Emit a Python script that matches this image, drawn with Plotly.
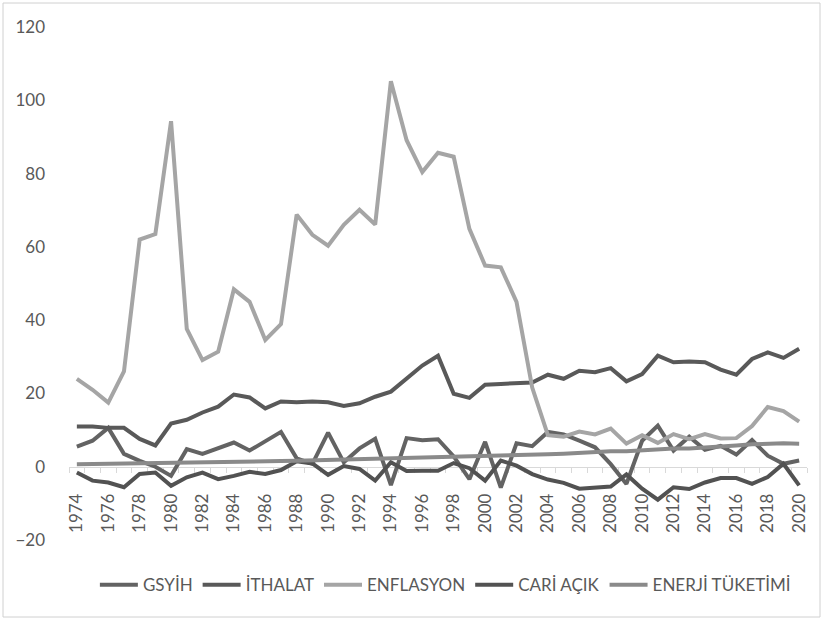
import plotly.graph_objects as go

years = list(range(1974, 2021))

gsyih = [5.5, 7.1, 10.6, 3.5, 1.6, 0.0, -2.5, 4.8, 3.5, 5.1, 6.6, 4.4, 7.1, 9.5, 2.3, 0.8,
         9.3, 1.2, 5.0, 7.6, -5.0, 7.8, 7.2, 7.5, 2.8, -3.4, 6.8, -5.7, 6.4, 5.6, 9.5, 8.8,
         7.1, 5.3, 0.7, -4.7, 7.1, 11.2, 4.4, 8.2, 4.6, 5.7, 3.3, 7.3, 3.0, 0.8, 1.7]

ithalat = [11.0, 11.0, 10.6, 10.6, 7.6, 5.8, 11.8, 12.8, 14.8, 16.4, 19.7, 18.9, 15.9, 17.8,
           17.6, 17.8, 17.6, 16.6, 17.3, 19.1, 20.5, 24.0, 27.6, 30.3, 19.9, 18.8, 22.4, 22.6,
           22.8, 23.0, 25.1, 24.0, 26.2, 25.8, 26.9, 23.3, 25.3, 30.3, 28.5, 28.7, 28.5, 26.5,
           25.1, 29.4, 31.2, 29.7, 32.2]

enflasyon = [24.0, 21.0, 17.5, 26.0, 62.0, 63.5, 94.3, 37.6, 29.1, 31.4, 48.4, 45.0, 34.6,
             38.9, 68.8, 63.3, 60.3, 66.0, 70.1, 66.1, 105.2, 89.1, 80.4, 85.7, 84.6, 64.9,
             54.9, 54.4, 45.0, 21.6, 8.6, 8.2, 9.6, 8.8, 10.4, 6.3, 8.6, 6.5, 8.9, 7.5, 8.9,
             7.7, 7.8, 11.1, 16.3, 15.2, 12.3]

cari_acik = [-1.6, -3.8, -4.3, -5.6, -2.0, -1.6, -5.2, -2.9, -1.6, -3.4, -2.5, -1.4, -2.0,
             -0.9, 1.5, 0.9, -2.2, 0.2, -0.6, -3.8, 1.2, -1.2, -1.1, -1.1, 1.0, -0.4, -3.8,
             1.7, 0.3, -2.0, -3.5, -4.4, -6.0, -5.7, -5.4, -2.1, -6.0, -9.0, -5.6, -6.1,
             -4.3, -3.1, -3.1, -4.7, -2.8, 0.8, -5.1]

enerji = [0.7, 0.75, 0.8, 0.85, 0.9, 0.9, 0.95, 1.0, 1.05, 1.1, 1.2, 1.3, 1.4, 1.55, 1.65,
          1.75, 1.85, 1.95, 2.05, 2.2, 2.3, 2.45, 2.6, 2.7, 2.8, 2.8, 2.9, 2.85, 3.0, 3.2,
          3.4, 3.55, 3.8, 4.1, 4.2, 4.2, 4.5, 4.8, 5.0, 5.0, 5.2, 5.5, 5.8, 6.1, 6.3, 6.4, 6.3]

x_ticks = list(range(1974, 2021, 2))
y_ticks = [-20, 0, 20, 40, 60, 80, 100, 120]

series = [
    ("GSYİH", gsyih, "#636363"),
    ("İTHALAT", ithalat, "#595959"),
    ("ENFLASYON", enflasyon, "#A5A5A5"),
    ("CARİ AÇIK", cari_acik, "#525252"),
    ("ENERJİ TÜKETİMİ", enerji, "#8A8A8A"),
]

FONT = "Lato, 'Open Sans', sans-serif"
TXT = "#595959"

fig = go.Figure()
for name, vals, col in series:
    fig.add_trace(go.Scatter(
        x=years, y=vals, name=name, mode="lines",
        line=dict(color=col, width=4, shape="linear"),
    ))

ymin, ymax = -20, 120
fig.update_layout(
    width=825, height=620,
    margin=dict(l=69, r=18, t=27, b=80, autoexpand=False),
    paper_bgcolor="white", plot_bgcolor="white",
    font=dict(family=FONT, size=17, color=TXT),
    showlegend=True,
    legend=dict(orientation="h", x=0.51, xanchor="center", y=-0.088, yanchor="middle",
                font=dict(size=17, color=TXT), itemwidth=38, tracegroupgap=0,
                bgcolor="rgba(0,0,0,0)"),
    xaxis=dict(
        range=[1973.5, 2020.5], tickmode="array", tickvals=x_ticks,
        ticktext=[str(v) for v in x_ticks], tickangle=-90,
        ticks="", showgrid=False, zeroline=False,
        showline=True, linecolor="#D9D9D9", linewidth=1,
        anchor="free", position=(0 - ymin) / (ymax - ymin),
        layer="below traces", automargin=False,
        tickfont=dict(size=17, color=TXT),
        minor=dict(tickmode="linear", tick0=1973.5, dtick=1, ticks="outside",
                   ticklen=5, tickcolor="#D9D9D9", tickwidth=1, showgrid=False),
        ticklabelstandoff=19,
    ),
    yaxis=dict(
        range=[ymin, ymax], tickmode="array", tickvals=y_ticks,
        showgrid=False, zeroline=False, showline=False, ticks="",
        automargin=False,
        tickfont=dict(size=17, color=TXT), ticklabelstandoff=23,
    ),
)

# chart area border
fig.add_shape(type="rect", xref="paper", yref="paper",
              x0=(3 - 69) / 738, x1=(820 - 69) / 738,
              y0=(540 - 617) / 513, y1=(540 - 3) / 513,
              line=dict(color="#D0D0D0", width=1), fillcolor="rgba(0,0,0,0)", layer="below")

fig.write_html("out.html", config={"displayModeBar": False},
               post_script="document.body.style.margin='0';document.body.style.padding='0';")
